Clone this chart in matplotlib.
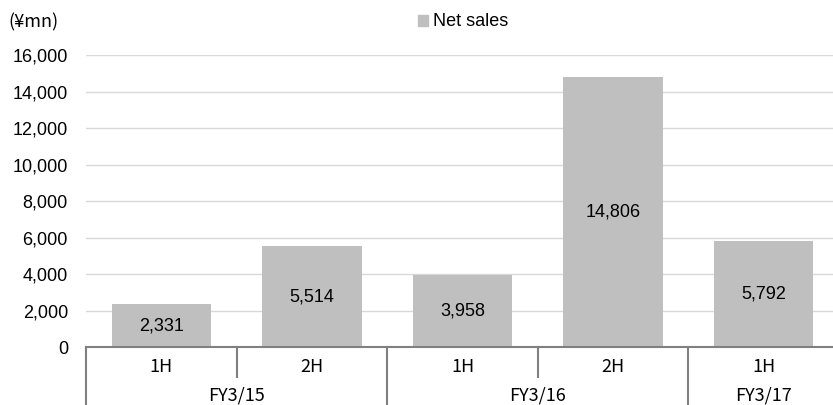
import matplotlib
matplotlib.use("Agg")
import matplotlib.pyplot as plt
from matplotlib.patches import Patch

periods = ["1H", "2H", "1H", "2H", "1H"]
groups = ["FY3/15", "FY3/16", "FY3/17"]
group_sizes = [2, 2, 1]
net_sales = [2331, 5514, 3958, 14806, 5792]
yticks = list(range(0, 16001, 2000))

plt.rcParams["font.family"] = ["Liberation Sans", "DejaVu Sans"]
jp = ["Noto Sans CJK JP", "DejaVu Sans"]
fs = 13

fig = plt.figure(figsize=(8.33, 4.05), dpi=100)
ax = fig.add_axes([86 / 833, 1 - 347 / 405, 753 / 833, (347 - 55) / 405])

x = list(range(len(net_sales)))
ax.bar(x, net_sales, width=0.66, color="#BFBFBF", zorder=2)
for xi, v in zip(x, net_sales):
    ax.text(xi, v / 2, f"{v:,}", ha="center", va="center", fontsize=fs, color="#000000")

ax.set_xlim(-0.5, len(net_sales) - 0.5)
ax.set_ylim(0, 16000)
ax.set_yticks(yticks)
ax.set_yticklabels([f"{t:,}" for t in yticks], fontsize=fs)
ax.yaxis.grid(True, color="#D9D9D9", lw=1, zorder=0)
ax.tick_params(axis="y", length=0, pad=13)
ax.set_xticks([])
for s in ["top", "right", "left"]:
    ax.spines[s].set_visible(False)
ax.spines["bottom"].set_color("#808080")
ax.spines["bottom"].set_linewidth(1.5)

# multi-level category axis
tr = ax.get_xaxis_transform()
bottom = -60 / 292
ax.plot([-0.5, -0.5], [0, bottom], transform=tr, color="#808080", lw=1.5, clip_on=False)
start = 0
for g, n in zip(groups, group_sizes):
    end = start + n
    ax.plot([end - 0.5, end - 0.5], [0, bottom], transform=tr, color="#808080", lw=1.5, clip_on=False)
    for k in range(start, end - 1):
        ax.plot([k + 0.5, k + 0.5], [0, -30 / 292], transform=tr, color="#808080", lw=1.5, clip_on=False)
    gx = start + (n - 1) / 2
    ax.text(gx, -49 / 292, g, transform=tr, ha="center", va="center", fontsize=fs, family=jp)
    start = end
for xi, p in zip(x, periods):
    ax.text(xi, -20 / 292, p, transform=tr, ha="center", va="center", fontsize=fs, family=jp)

fig.text(8 / 833, 1 - 22 / 405, "(¥mn)", ha="left", va="center", fontsize=fs, family=jp)
fig.legend(handles=[Patch(color="#BFBFBF", label="Net sales")], loc="center",
           bbox_to_anchor=(463 / 833, 1 - 22 / 405), frameon=False, fontsize=fs,
           handlelength=0.55, handleheight=0.55, handletextpad=0.3)

fig.savefig("out.png", dpi=100)
